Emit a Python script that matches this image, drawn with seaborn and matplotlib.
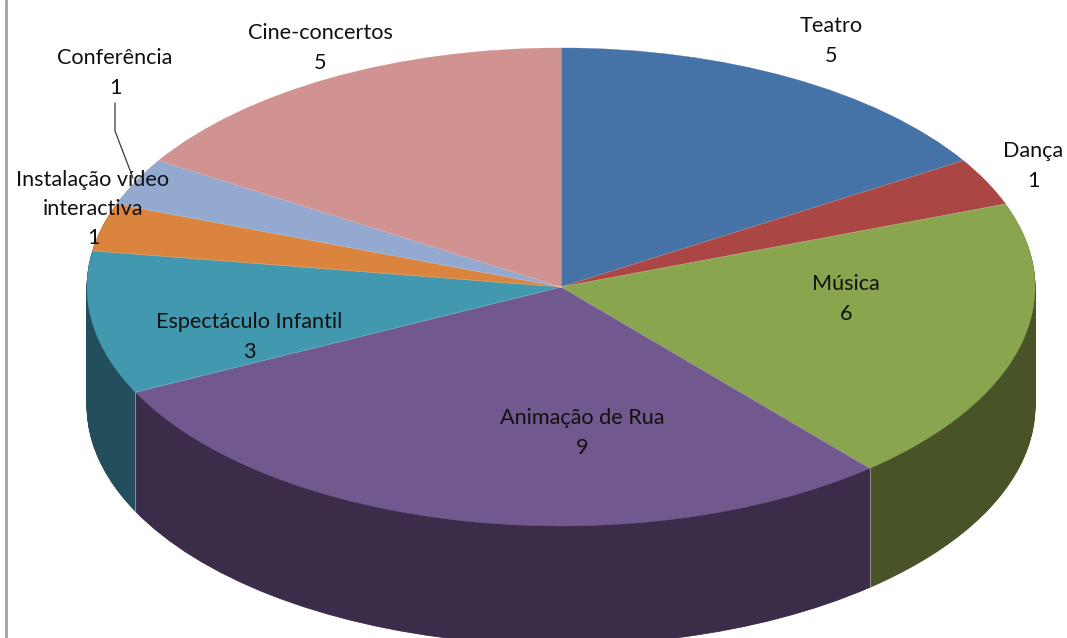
import numpy as np
import seaborn as sns
import matplotlib.pyplot as plt

categories = ['Teatro', 'Dança', 'Música', 'Animação de Rua', 'Espectáculo Infantil',
              'Instalação vídeo\ninteractiva', 'Conferência', 'Cine-concertos']
values = [5, 1, 6, 9, 3, 1, 1, 5]

top_colors = ['#4573a7', '#aa4644', '#89a54e', '#71588f', '#4298af', '#db843d', '#93a9cf', '#d19392']
side_colors = ['#233a54', '#552322', '#485328', '#3b2c49', '#234e5b', '#6e421e', '#4a5568', '#694a49']

W, H = 1067, 638
# pie geometry in pixels
cx, cy = 561, 287
rx, ry = 474, 239
depth = 119

sns.set_theme(style='white')
plt.rcParams['font.family'] = ['Lato', 'DejaVu Sans']

fig = plt.figure(figsize=(W / 100, H / 100), dpi=100)
ax = fig.add_axes([0, 0, 1, 1])


def draw_pie(colors, offset, lw):
    wedges, _ = ax.pie(values, startangle=90, counterclock=False, colors=colors,
                       center=(0, -offset / ry))
    for w in wedges:
        w.set_edgecolor(w.get_facecolor())
        w.set_linewidth(lw)


# side wall: stack of darker pies, from the bottom up
for d in range(depth, 0, -1):
    draw_pie(side_colors, d, 0.6)
draw_pie(top_colors, 0, 0.3)

ax.set_aspect('auto')
ax.set_xlim(-cx / rx, (W - cx) / rx)
ax.set_ylim((cy - H) / ry, cy / ry)
ax.set_axis_off()

# thin separators between slices
angles = np.cumsum(values) / np.sum(values) * 2 * np.pi
for a in angles:
    ax.plot([0, np.sin(a)], [0, np.cos(a)], color='white', lw=0.5, alpha=0.35)
    if np.cos(a) < 0:
        ax.plot([np.sin(a)] * 2, [np.cos(a), np.cos(a) - depth / ry], color='#8a8a8a', lw=0.8)


def px(x, y):
    return (x - cx) / rx, (cy - y) / ry


# leader line of Conferência
line_xy = [px(115, 103), px(115, 131), px(133, 178)]
ax.plot(*zip(*line_xy), color='#3a3a3a', lw=0.9)

# frame edge on the left
ax.plot(*zip(px(6, 0), px(6, H)), color='#a3a3a3', lw=2)

label_xy = [(831, 41), (1033, 166), (846, 299), (582, 433), (249, 337), (93, 209), (115, 73), (320, 48)]
for name, val, (x, y) in zip(categories, values, label_xy):
    ax.text(*px(x, y), f'{name}\n{val}', ha='center', va='center', multialignment='center',
            fontsize=15.6, linespacing=1.58, color='#111111')

fig.savefig('out.png', dpi=100)
